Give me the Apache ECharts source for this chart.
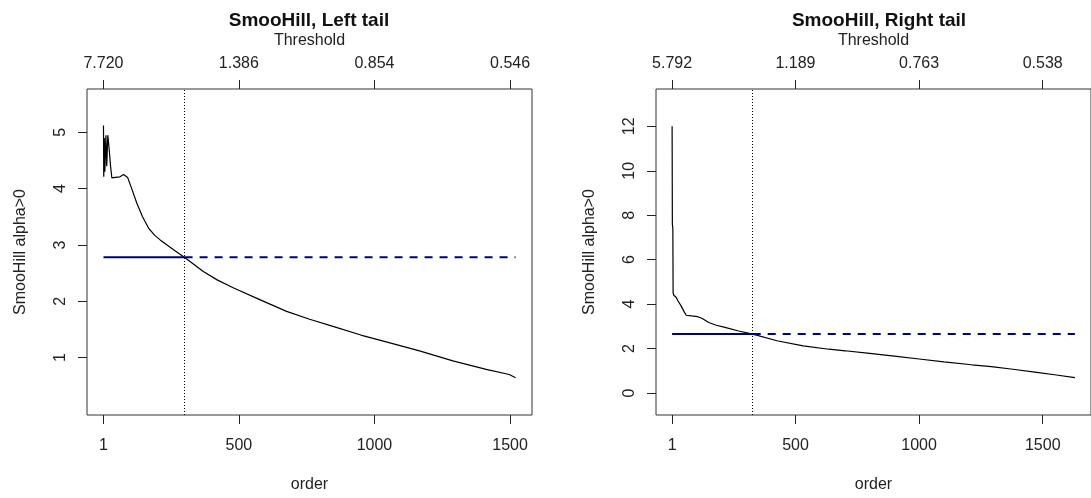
<!DOCTYPE html>
<html>
<head>
<meta charset="utf-8">
<script src="https://cdn.jsdelivr.net/npm/echarts@6/dist/echarts.min.js"></script>
<style>
  html, body { margin: 0; padding: 0; background: #fff; }
  #chart { width: 1091px; height: 498px; }
</style>
</head>
<body>
<div id="chart"></div>
<script>
// order (number of upper order statistics) and smoothed Hill estimate, left tail
const orderLeft = [1, 2, 4, 6, 10, 13, 17, 22, 27, 32, 45, 62, 75, 81, 90, 105, 124, 145, 167, 190, 210,
  258, 303, 369, 420, 479, 577, 676, 761, 850, 950, 1050, 1166, 1289, 1412, 1497, 1520];
const alphaLeft = [5.12, 4.21, 4.9, 4.3, 4.95, 4.4, 4.95, 4.7, 4.4, 4.19, 4.2, 4.21, 4.25, 4.26, 4.2, 4.0, 3.74, 3.5, 3.3, 3.17, 3.09,
  2.92, 2.77, 2.53, 2.38, 2.24, 2.03, 1.82, 1.68, 1.55, 1.4, 1.27, 1.12, 0.94, 0.79, 0.7, 0.64];

// right tail
const orderRight = [1, 2, 4, 5, 8, 12, 18, 25, 38, 50, 58, 80, 103, 123, 149, 180, 215, 270, 327, 425, 531,
  635, 701, 800, 900, 1000, 1100, 1213, 1292, 1371, 1476, 1555, 1630];
const alphaRight = [12.0, 7.6, 7.4, 4.5, 4.4, 4.36, 4.3, 4.14, 3.91, 3.65, 3.5, 3.47, 3.44, 3.35, 3.17, 3.05, 2.95, 2.79, 2.65, 2.35, 2.12,
  1.97, 1.9, 1.78, 1.66, 1.53, 1.4, 1.27, 1.19, 1.08, 0.93, 0.81, 0.69];

// chosen k and the estimate at k
const kLeft = 300;
const kRight = 327;
const hillLeft = 2.78;
const hillRight = 2.66;

const orderTicks = [1, 500, 1000, 1500];
const thresholdLeft = ['7.720', '1.386', '0.854', '0.546'];
const thresholdRight = ['5.792', '1.189', '0.763', '0.538'];
const yTicksLeft = [1, 2, 3, 4, 5];
const yTicksRight = [0, 2, 4, 6, 8, 10, 12];

const FONT = 'Liberation Sans, Arial, sans-serif';
const NAVY = '#000080';
const INK = '#222';

function pairs(xs, ys) {
  return xs.map((x, i) => [x, ys[i]]);
}

// R style axis range: data range plus 4% on both sides
function padRange(lo, hi) {
  const d = (hi - lo) * 0.04;
  return [lo - d, hi + d];
}

const textStyle = { fontFamily: FONT, fontSize: 16, color: INK };

function bottomAxis(grid, range) {
  return {
    type: 'value', gridIndex: grid, position: 'bottom',
    min: range[0], max: range[1],
    name: 'order', nameLocation: 'middle', nameGap: 62,
    nameTextStyle: textStyle,
    axisLine: { show: false, onZero: false },
    axisTick: { show: true, length: 9, customValues: orderTicks, lineStyle: { color: INK } },
    axisLabel: { ...textStyle, customValues: orderTicks, margin: 23, formatter: (v) => String(v) },
    splitLine: { show: false },
  };
}

function topAxis(grid, range, labels) {
  return {
    type: 'value', gridIndex: grid, position: 'top',
    min: range[0], max: range[1],
    name: 'Threshold', nameLocation: 'middle', nameGap: 40,
    nameTextStyle: textStyle,
    axisLine: { show: false, onZero: false },
    axisTick: { show: true, length: 9, customValues: orderTicks, lineStyle: { color: INK } },
    axisLabel: {
      ...textStyle, customValues: orderTicks, margin: 17,
      formatter: (v) => labels[orderTicks.indexOf(v)],
    },
    splitLine: { show: false },
  };
}

function leftAxis(grid, min, max, ticks) {
  return {
    type: 'value', gridIndex: grid, min, max,
    name: 'SmooHill alpha>0', nameLocation: 'middle', nameGap: 58,
    nameTextStyle: textStyle,
    axisLine: { show: false, onZero: false },
    axisTick: { show: true, length: 9, customValues: ticks, lineStyle: { color: INK } },
    axisLabel: { ...textStyle, customValues: ticks, rotate: 90, margin: 18 },
    splitLine: { show: false },
  };
}

function panelSeries(grid, xs, ys, k, hill, n) {
  return [
    {
      type: 'line', xAxisIndex: grid * 2, yAxisIndex: grid,
      data: pairs(xs, ys), showSymbol: false, symbol: 'none',
      lineStyle: { color: '#000', width: 1.2 },
      silent: true,
      markLine: {
        silent: true, symbol: 'none', label: { show: false },
        lineStyle: { color: '#000', type: [1, 2], width: 1 },
        data: [{ xAxis: k }],
      },
    },
    {
      type: 'line', xAxisIndex: grid * 2, yAxisIndex: grid,
      data: [[1, hill], [k, hill]], symbol: 'none',
      lineStyle: { color: NAVY, width: 2 },
    },
    {
      type: 'line', xAxisIndex: grid * 2, yAxisIndex: grid,
      data: [[k, hill], [n, hill]], symbol: 'none',
      lineStyle: { color: NAVY, width: 2, type: [8, 7] },
    },
  ];
}

const nLeft = orderLeft[orderLeft.length - 1];
const nRight = orderRight[orderRight.length - 1];
const xRangeLeft = padRange(1, nLeft);
const xRangeRight = padRange(1, nRight);

const titleStyle = { fontFamily: FONT, fontSize: 19, fontWeight: 'bold', color: '#111' };

const option = {
  animation: false,
  backgroundColor: '#fff',
  title: [
    { text: 'SmooHill, Left tail', left: 309, top: 11, textAlign: 'center', padding: 0, textStyle: titleStyle },
    { text: 'SmooHill, Right tail', left: 879, top: 11, textAlign: 'center', padding: 0, textStyle: titleStyle },
  ],
  grid: [
    { left: 87, top: 89, width: 445, height: 327, show: true, borderColor: '#333', borderWidth: 1 },
    { left: 656, top: 89, width: 447, height: 327, show: true, borderColor: '#333', borderWidth: 1 },
  ],
  xAxis: [
    bottomAxis(0, xRangeLeft),
    topAxis(0, xRangeLeft, thresholdLeft),
    bottomAxis(1, xRangeRight),
    topAxis(1, xRangeRight, thresholdRight),
  ],
  yAxis: [
    leftAxis(0, -0.02, 5.77, yTicksLeft),
    leftAxis(1, -0.99, 13.68, yTicksRight),
  ],
  series: [
    ...panelSeries(0, orderLeft, alphaLeft, kLeft, hillLeft, nLeft),
    ...panelSeries(1, orderRight, alphaRight, kRight, hillRight, nRight),
  ],
};

const chart = echarts.init(document.getElementById('chart'));
chart.setOption(option);
</script>
</body>
</html>
